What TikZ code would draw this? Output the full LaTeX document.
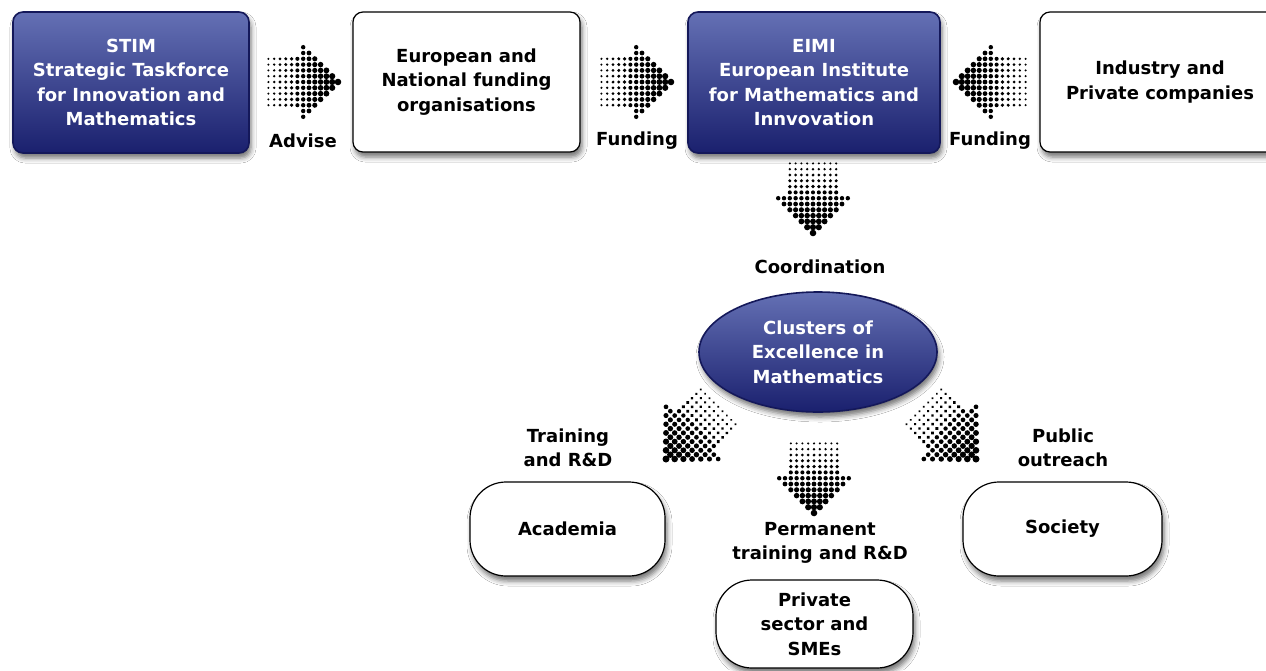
\documentclass[tikz,border=0pt]{standalone}
\usepackage{fontspec}
\setmainfont{DejaVu Sans}
\usetikzlibrary{shapes.geometric,shadows.blur}
\definecolor{blueT}{RGB}{100,112,180}
\definecolor{blueB}{RGB}{26,32,110}
\definecolor{blueD}{RGB}{20,24,90}
\tikzset{
  txt/.style={font=\fontsize{18}{24.5}\selectfont\bfseries, align=center, inner sep=0pt},
  shad/.style={blur shadow={shadow xshift=2pt, shadow yshift=-5pt, shadow blur radius=5pt, shadow opacity=55}},
  bluebox/.style={txt, shad, draw=blueD, line width=1.6pt, top color=blueT, bottom color=blueB, rounded corners=10pt, text=white},
  whitebox/.style={txt, shad, draw=black, line width=1.2pt, fill=white, rounded corners=10pt},
  pillbox/.style={txt, shad, draw=black, line width=1.2pt, fill=white, rounded corners=36pt},
  blueell/.style={txt, shad, ellipse, draw=blueD, line width=1.6pt, top color=blueT, bottom color=blueB, text=white},
  lbl/.style={txt},
  dotarrow/.pic={
    \foreach \i in {0,...,12}{
      \foreach \j in {-6,...,6}{
        \pgfmathtruncatemacro\ins{((\i<6) && (abs(\j)<=4)) || ((\i>=6) && (abs(\j)<=12-\i)) ? 1 : 0}
        \ifnum\ins=1
          \pgfmathsetmacro\rr{1.15+2.15*\i/12}
          \fill[black] (\i*5.8-69.6, \j*5.8) circle[radius=\rr pt];
        \fi
      }
    }
  }
}
\begin{document}
\begin{tikzpicture}[x=1pt,y=1pt]
\useasboundingbox (0,0) rectangle (1266,-670);
\fill[white] (0,0) rectangle (1266,-670);

% top row
\node[bluebox, minimum width=236pt, minimum height=141pt] (stim) at (131,-82.5)
  {STIM\\Strategic Taskforce\\for Innovation and\\Mathematics};
\node[whitebox, minimum width=227pt, minimum height=140pt] (euro) at (466.5,-82)
  {European and\\National funding\\organisations};
\node[bluebox, minimum width=252pt, minimum height=141pt] (eimi) at (814,-82.5)
  {EIMI\\European Institute\\for Mathematics and\\Innvovation};
\node[whitebox, minimum width=240pt, minimum height=140pt] (industry) at (1160,-82)
  {Industry and\\Private companies};

% arrows top row
\coordinate (a1) at (338,-82);
\coordinate (a2) at (671,-82);
\coordinate (a3) at (956,-82);
\pic at (a1) {dotarrow};
\pic at (a2) {dotarrow};
\pic[rotate=180] at (a3) {dotarrow};
\node[lbl] (advise) at (303,-141) {Advise};
\node[lbl] (fund1) at (637,-141) {Funding};
\node[lbl] (fund2) at (990,-141) {Funding};

% coordination
\coordinate (a4) at (813,-233);
\pic[rotate=-90] at (a4) {dotarrow};
\node[lbl] (coord) at (820,-267) {Coordination};

\node[blueell, minimum width=238pt, minimum height=120pt] (clusters) at (818,-352)
  {Clusters of\\Excellence in\\Mathematics};

% lower arrows
\coordinate (a5) at (666,-459);
\coordinate (a6) at (976,-459);
\coordinate (a7) at (814,-513);
\pic[rotate=-135, scale=1.06] at (a5) {dotarrow};
\pic[rotate=-45, scale=1.06] at (a6) {dotarrow};
\pic[rotate=-90] at (a7) {dotarrow};

\node[lbl] (train) at (568,-448) {Training\\and R\&D};
\node[lbl] (public) at (1063,-448) {Public\\outreach};
\node[lbl] (perm) at (820,-543) {Permanent\\training and R\&D};

\node[pillbox, minimum width=195pt, minimum height=94pt] (academia) at (567.5,-529) {Academia};
\node[pillbox, minimum width=199pt, minimum height=94pt] (society) at (1062.5,-529) {Society};
\node[pillbox, minimum width=197pt, minimum height=88pt] (private) at (814.5,-624)
  {Private\\sector and\\SMEs};
\end{tikzpicture}
\end{document}
